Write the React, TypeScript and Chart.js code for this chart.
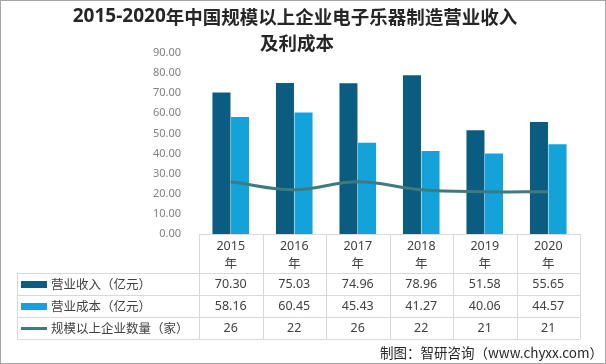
import React, { useEffect, useRef } from "react";
import { Chart, registerables } from "chart.js";

Chart.register(...registerables);

const categories = ["2015", "2016", "2017", "2018", "2019", "2020"];
const revenue = [70.3, 75.03, 74.96, 78.96, 51.58, 55.65];
const cost = [58.16, 60.45, 45.43, 41.27, 40.06, 44.57];
const companies = [26, 22, 26, 22, 21, 21];
const seriesNames = ["营业收入（亿元）", "营业成本（亿元）", "规模以上企业数量（家）"];
const titlePrefix = "2015-2020";
const titleRest = "年中国规模以上企业电子乐器制造营业收入";
const titleLine2 = "及利成本";
const footer = "制图：智研咨询（www.chyxx.com）";
const yMin = 0;
const yMax = 90;
const yStep = 10;

const DARK = "#0A5C80";
const LIGHT = "#13A2DA";
const LINE = "#3E7B7E";
const CJK = '"Noto Sans CJK SC", "Noto Sans", sans-serif';
const NUM = '"Noto Sans", "Noto Sans CJK SC", sans-serif';

const decorPlugin = {
  id: "decor",
  afterDraw(chart: any) {
    const ctx = chart.ctx as CanvasRenderingContext2D;
    const xs = chart.scales.x;
    const area = chart.chartArea;
    const W = chart.width;
    const H = chart.height;
    ctx.save();
    // title
    ctx.fillStyle = "#262626";
    ctx.textBaseline = "middle";
    const fPre = `bold 19px "Open Sans", ${CJK}`;
    const fRest = `bold 18.5px ${CJK}`;
    ctx.font = fPre;
    const wPre = ctx.measureText(titlePrefix).width;
    ctx.font = fRest;
    const wRest = ctx.measureText(titleRest).width;
    const startX = 295 - (wPre + wRest) / 2;
    ctx.textAlign = "left";
    ctx.font = fPre;
    ctx.fillText(titlePrefix, startX, 17);
    ctx.font = fRest;
    ctx.fillText(titleRest, startX + wPre, 17);
    ctx.textAlign = "center";
    ctx.fillText(titleLine2, 297, 43);

    // table
    const n = categories.length;
    const left = xs.left;
    const right = xs.right;
    const colW = (right - left) / n;
    const top = area.bottom;
    const tblLeft = 17;
    const headerBottom = top + 39;
    const rowH = 22;
    const tblBottom = headerBottom + rowH * 3;
    ctx.strokeStyle = "#D9D9D9";
    ctx.lineWidth = 1;
    ctx.beginPath();
    for (let r = 0; r <= 3; r++) {
      const y = Math.round(headerBottom + r * rowH) + 0.5;
      ctx.moveTo(tblLeft, y);
      ctx.lineTo(right, y);
    }
    for (let c = 0; c <= n; c++) {
      const x = Math.round(left + c * colW) + 0.5;
      ctx.moveTo(x, top);
      ctx.lineTo(x, tblBottom);
    }
    ctx.moveTo(tblLeft + 0.5, headerBottom);
    ctx.lineTo(tblLeft + 0.5, tblBottom);
    ctx.stroke();
    ctx.beginPath();
    ctx.moveTo(left, Math.round(top) + 0.5);
    ctx.lineTo(right, Math.round(top) + 0.5);
    ctx.stroke();

    // header text
    ctx.fillStyle = "#404040";
    ctx.textAlign = "center";
    for (let i = 0; i < n; i++) {
      const cx = xs.getPixelForValue(i);
      ctx.font = `12.5px ${NUM}`;
      ctx.fillText(categories[i], cx, top + 12);
      ctx.font = `12.5px ${CJK}`;
      ctx.fillText("年", cx, top + 29);
    }
    const rows = [
      revenue.map((v) => v.toFixed(2)),
      cost.map((v) => v.toFixed(2)),
      companies.map((v) => String(v)),
    ];
    for (let r = 0; r < 3; r++) {
      const cy = headerBottom + r * rowH + rowH / 2 + 0.5;
      ctx.font = `12.5px ${NUM}`;
      ctx.textAlign = "center";
      ctx.fillStyle = "#404040";
      for (let i = 0; i < n; i++) {
        ctx.fillText(rows[r][i], xs.getPixelForValue(i), cy);
      }
      if (r === 0) {
        ctx.fillStyle = DARK;
        ctx.fillRect(21, cy - 3.5, 26, 7);
      } else if (r === 1) {
        ctx.fillStyle = LIGHT;
        ctx.fillRect(21, cy - 3.5, 26, 7);
      } else {
        ctx.fillStyle = LINE;
        ctx.fillRect(21, cy - 1.5, 26, 3);
      }
      ctx.fillStyle = "#404040";
      ctx.textAlign = "left";
      ctx.font = `12.5px ${CJK}`;
      ctx.fillText(seriesNames[r], 51, cy);
    }

    // footer
    ctx.textAlign = "right";
    ctx.fillStyle = "#262626";
    ctx.font = `13.5px ${CJK}`;
    ctx.fillText(footer, 603, 353);

    // border
    ctx.strokeStyle = "#A6A6A6";
    ctx.lineWidth = 1;
    ctx.strokeRect(0.5, 0.5, W - 1, H - 1);
    ctx.restore();
  },
};

export default function App() {
  const ref = useRef<HTMLCanvasElement | null>(null);
  useEffect(() => {
    if (!ref.current) return;
    const chart = new Chart(ref.current, {
      type: "bar",
      data: {
        labels: categories,
        datasets: [
          {
            type: "line",
            label: seriesNames[2],
            data: companies,
            borderColor: LINE,
            backgroundColor: LINE,
            borderWidth: 3,
            pointRadius: 0,
            tension: 0.4,
            order: 0,
          } as any,
          {
            label: seriesNames[0],
            data: revenue,
            backgroundColor: DARK,
            categoryPercentage: 0.585,
            barPercentage: 0.97,
            order: 1,
          },
          {
            label: seriesNames[1],
            data: cost,
            backgroundColor: LIGHT,
            categoryPercentage: 0.585,
            barPercentage: 0.97,
            order: 1,
          },
        ],
      },
      options: {
        responsive: false,
        animation: false,
        layout: { padding: { left: 0, right: 26, top: 53, bottom: 130 } },
        plugins: {
          legend: { display: false },
          title: { display: false },
          tooltip: { enabled: false },
        },
        scales: {
          x: {
            grid: { display: false, drawTicks: false },
            border: { display: false },
            ticks: { display: false },
          },
          y: {
            min: yMin,
            max: yMax,
            grid: { display: false, drawTicks: false },
            border: { display: false },
            ticks: {
              stepSize: yStep,
              padding: 18,
              color: "#7F7F7F",
              font: { family: NUM, size: 11 },
              callback: (v: any) => Number(v).toFixed(2),
            },
            afterFit: (scale: any) => {
              scale.width = 199;
            },
          },
        },
      },
      plugins: [decorPlugin],
    });
    return () => chart.destroy();
  }, []);
  return (
    <div style={{ position: "absolute", left: 0, top: 0, width: 606, height: 364, background: "#fff" }}>
      <canvas ref={ref} width={606} height={364} style={{ display: "block" }} />
    </div>
  );
}
